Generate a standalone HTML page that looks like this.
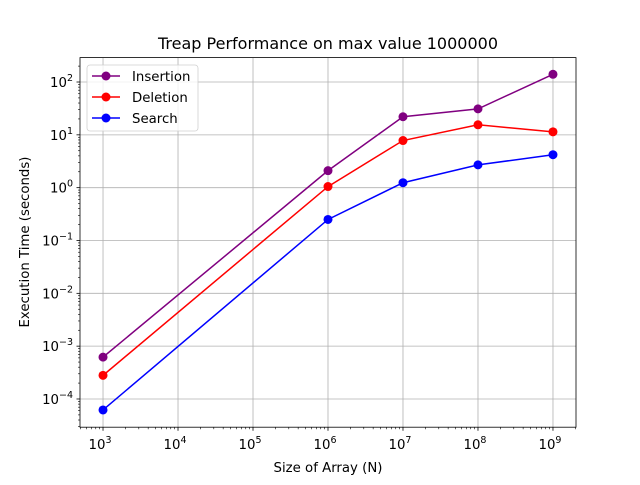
<!DOCTYPE html>
<html><head><meta charset="utf-8"><style>
body{margin:0;background:#fff}
svg text{font-family:"DejaVu Sans","Liberation Sans",sans-serif;fill:#000}
</style></head><body>
<svg id="chart" width="640" height="480" xmlns="http://www.w3.org/2000/svg">
<rect width="640" height="480" fill="#fff"/>
<g id="grid"></g>
<g id="axes"></g>
<g id="series"></g>
<rect x="80" y="57.6" width="496" height="369.6" fill="none" stroke="#000" stroke-width="0.8"/>
<text x="328" y="49" font-size="16" text-anchor="middle">Treap Performance on max value 1000000</text>
<text x="328" y="472" font-size="13.3" text-anchor="middle">Size of Array (N)</text>
<text transform="translate(29,242) rotate(-90)" font-size="13.3" text-anchor="middle">Execution Time (seconds)</text>
<g id="legend"></g>
</svg>
<script>
const xCategories=[1e3,1e6,1e7,1e8,1e9];
const insertionValues=[6.2e-4,2.1,22,31,140];
const deletionValues=[2.8e-4,1.05,7.8,15.5,11.4];
const searchValues=[6.2e-5,0.25,1.24,2.7,4.2];
const xTickExps=[3,4,5,6,7,8,9];
const yTickExps=[-4,-3,-2,-1,0,1,2];
const seriesNames=["Insertion","Deletion","Search"];

const NS="http://www.w3.org/2000/svg";
const L=80,R=576,T=57.6,B=427.2;
const xMin=2.693,xMax=9.307,yMin=-4.534,yMax=2.462;
function xs(v){return L+(Math.log10(v)-xMin)/(xMax-xMin)*(R-L);}
function ys(v){return B-(Math.log10(v)-yMin)/(yMax-yMin)*(B-T);}
function mk(tag,attrs,parent){const e=document.createElementNS(NS,tag);for(const k in attrs)e.setAttribute(k,attrs[k]);parent.appendChild(e);return e;}
const grid=document.getElementById('grid'),axes=document.getElementById('axes'),ser=document.getElementById('series'),leg=document.getElementById('legend');

xTickExps.forEach(e=>{
  const x=xs(Math.pow(10,e));
  const g=mk('line',{x1:x,x2:x,y1:T,y2:B,stroke:'#b0b0b0','stroke-width':0.8},grid);
  
  
  const t=mk('line',{x1:x,x2:x,y1:B,y2:B+3.5,stroke:'#000','stroke-width':0.8},axes);
  
  
  const tx=mk('text',{x:x-3,y:B+22,'font-size':13.3,'text-anchor':'middle'},axes);
  
  
  tx.innerHTML='10<tspan dy="-6" font-size="9.5">'+e+'</tspan>';
});
for(let e=2;e<=9;e++)for(let s=2;s<=9;s++){
  const v=s*Math.pow(10,e),x=xs(v);
  if(x<L||x>R)continue;
  const m=mk('line',{x1:x,x2:x,y1:B,y2:B+2,stroke:'#000','stroke-width':0.6},axes);
  
  
}
yTickExps.forEach(e=>{
  const y=ys(Math.pow(10,e));
  const g=mk('line',{x1:L,x2:R,y1:y,y2:y,stroke:'#b0b0b0','stroke-width':0.8},grid);
  
  
  const t=mk('line',{x1:L-3.5,x2:L,y1:y,y2:y,stroke:'#000','stroke-width':0.8},axes);
  
  
  const tx=mk('text',{x:L-7,y:y+5,'font-size':13.3,'text-anchor':'end'},axes);
  
  
  tx.innerHTML='10<tspan dy="-6" font-size="9.5">'+(e<0?'\u2212'+(-e):e)+'</tspan>';
});
for(let e=-5;e<=2;e++)for(let s=2;s<=9;s++){
  const y=ys(s*Math.pow(10,e));
  if(y<T||y>B)continue;
  const m=mk('line',{x1:L-2,x2:L,y1:y,y2:y,stroke:'#000','stroke-width':0.6},axes);
  
  
}
const allSeries=[[insertionValues,'#800080'],[deletionValues,'#ff0000'],[searchValues,'#0000ff']];
allSeries.forEach((sv,i)=>{
  const vals=sv[0],col=sv[1];
  const p=mk('polyline',{points:vals.map((v,j)=>xs(xCategories[j])+','+ys(v)).join(' '),fill:'none',stroke:col,'stroke-width':1.5},ser);
  
  
  vals.forEach((v,j)=>{
    const c=mk('circle',{cx:xs(xCategories[j]),cy:ys(v),r:4.5,fill:col},ser);
    
    
  });
});
const box=mk('rect',{x:87,y:65,width:111,height:66,rx:3,fill:'#fff','fill-opacity':0.8,stroke:'#d0d0d0','stroke-width':0.8},leg);


seriesNames.forEach((n,i)=>{
  const y=76+i*21,col=allSeries[i][1];
  const g=mk('g',{},leg);
  
  
  mk('line',{x1:92,x2:120,y1:y,y2:y,stroke:col,'stroke-width':1.5},g);
  mk('circle',{cx:106,cy:y,r:4.5,fill:col},g);
  const t=mk('text',{x:132,y:y+5,'font-size':13.3},g);
  t.textContent=n;
});
</script>
</body></html>
